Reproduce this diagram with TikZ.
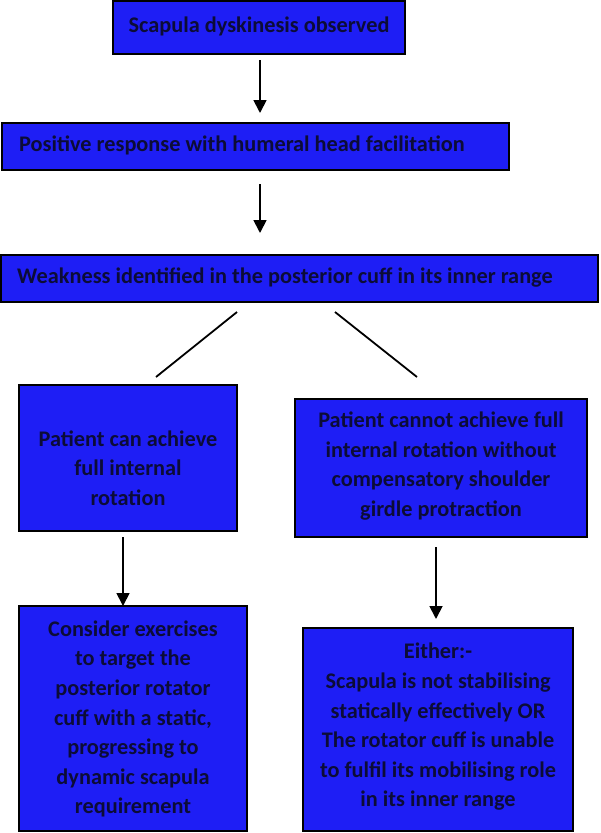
\documentclass[tikz,border=0pt]{standalone}
\usepackage{fontspec}
\setmainfont{Carlito}
\usetikzlibrary{arrows.meta}
\definecolor{boxblue}{RGB}{30,30,245}
\definecolor{txt}{RGB}{12,12,55}
\tikzset{
  box/.style={draw=black, line width=1.6pt, fill=boxblue, rectangle, inner sep=0pt},
  lbl/.style={text=txt, font=\bfseries\fontsize{22.3}{29.6}\selectfont, align=center, inner sep=0pt},
  arr/.style={draw=black, line width=1.8pt, -{Triangle[width=13pt,length=13pt]}},
  ln/.style={draw=black, line width=1.8pt}
}
\begin{document}
\begin{tikzpicture}[x=1pt,y=-1pt]
\useasboundingbox (0,0) rectangle (600,833);
% boxes
\node[box, minimum width=292pt, minimum height=53pt] (b1) at (259,27.5) {};
\node[box, minimum width=507pt, minimum height=47pt] (b2) at (255.5,146.5) {};
\node[box, minimum width=597pt, minimum height=47pt] (b3) at (299.5,278.5) {};
\node[box, minimum width=218pt, minimum height=146pt] (b4) at (128,458) {};
\node[box, minimum width=292pt, minimum height=138pt] (b5) at (441,468) {};
\node[box, minimum width=228pt, minimum height=225pt] (b6) at (133,718.5) {};
\node[box, minimum width=270pt, minimum height=203pt] (b7) at (438,729.5) {};
% texts
\node[lbl] (t1) at (259,26) {Scapula dyskinesis observed};
\node[lbl, anchor=west] (t2) at (19,145) {Positive response with humeral head facilitation};
\node[lbl, anchor=west] (t3) at (17,278) {Weakness identified in the posterior cuff in its inner range};
\node[lbl] (t4) at (128,468) {Patient can achieve\\full internal\\rotation};
\node[lbl] (t5) at (441,466) {Patient cannot achieve full\\internal rotation without\\compensatory shoulder\\girdle protraction};
\node[lbl] (t6) at (133,719) {Consider exercises\\to target the\\posterior rotator\\cuff with a static,\\progressing to\\dynamic scapula\\requirement};
\node[lbl] (t7) at (438,727) {Either:-\\Scapula is not stabilising\\statically effectively OR\\The rotator cuff is unable\\to fulfil its mobilising role\\in its inner range};
% connector ends
\coordinate (a1s) at (260,60);  \coordinate (a1e) at (260,113);
\coordinate (a2s) at (260,184); \coordinate (a2e) at (260,233);
\coordinate (d1s) at (237,312); \coordinate (d1e) at (156,377);
\coordinate (d2s) at (335,312); \coordinate (d2e) at (417,377);
\coordinate (a3s) at (123,537); \coordinate (a3e) at (123,606);
\coordinate (a4s) at (436,547); \coordinate (a4e) at (436,619);
\draw[arr] (a1s) -- (a1e);
\draw[arr] (a2s) -- (a2e);
\draw[ln] (d1s) -- (d1e);
\draw[ln] (d2s) -- (d2e);
\draw[arr] (a3s) -- (a3e);
\draw[arr] (a4s) -- (a4e);
\end{tikzpicture}
\end{document}
